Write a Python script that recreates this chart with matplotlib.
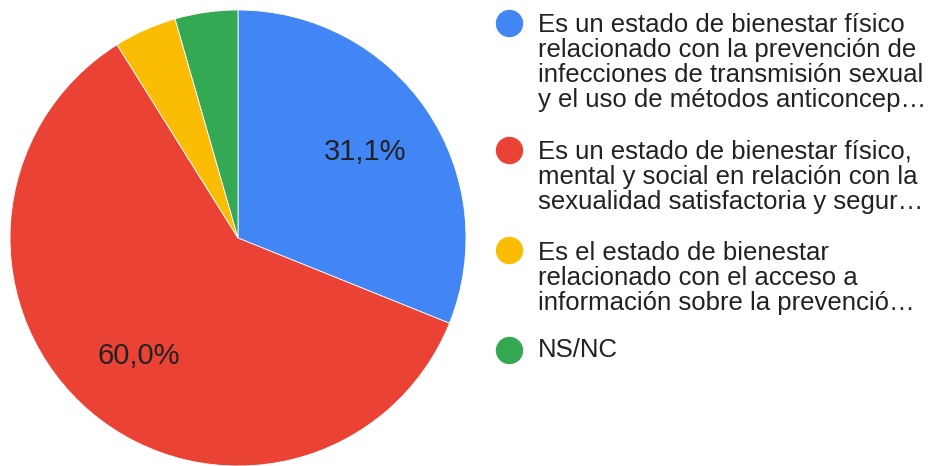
import matplotlib.pyplot as plt
from matplotlib.lines import Line2D

# datos de la encuesta
categorias = [
    "Es un estado de bienestar físico\nrelacionado con la prevención de\ninfecciones de transmisión sexual\ny el uso de métodos anticoncep…",
    "Es un estado de bienestar físico,\nmental y social en relación con la\nsexualidad satisfactoria y segur…",
    "Es el estado de bienestar\nrelacionado con el acceso a\ninformación sobre la prevenció…",
    "NS/NC",
]
porcentajes = [31.1, 60.0, 4.45, 4.45]
colores = ["#4285F4", "#EA4335", "#FBBC04", "#34A853"]

plt.rcParams['font.family'] = ['Liberation Sans', 'DejaVu Sans']

W, H = 934, 466
fig = plt.figure(figsize=(W / 100, H / 100), dpi=100)
fig.patch.set_facecolor('white')

# pie: centro (238, 238) desde arriba, radio 228
ax = fig.add_axes([10 / W, 0 / H, 456 / W, 456 / H])


def etiqueta(p):
    if p < 10:
        return ''
    return f"{p:.1f}%".replace('.', ',')


ax.pie(porcentajes, colors=colores, startangle=90, counterclock=False,
       autopct=etiqueta, pctdistance=0.675,
       wedgeprops={'linewidth': 0.6, 'edgecolor': 'white'},
       textprops={'fontsize': 21, 'color': '#222222'})
ax.set_xlim(-1, 1)
ax.set_ylim(-1, 1)
ax.set_aspect('equal')
ax.axis('off')

# leyenda a mano (posiciones en pixeles desde arriba)
circ_y = [23, 150, 250, 350]
base_y = [32, 159, 260, 357]
for cat, col, cy, by in zip(categorias, colores, circ_y, base_y):
    fig.add_artist(Line2D([509 / W], [1 - cy / H], marker='o', markersize=18.7,
                          color=col, linestyle='none', transform=fig.transFigure))
    for i, linea in enumerate(cat.split('\n')):
        fig.text(538 / W, 1 - (by + 25 * i) / H, linea, fontsize=18.5,
                 color='#222222', va='baseline', ha='left')

fig.savefig('out.png', dpi=100)
